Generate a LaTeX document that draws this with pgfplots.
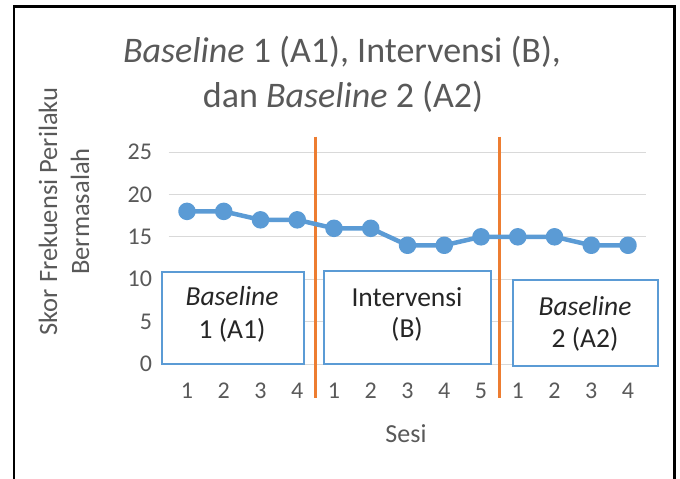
\documentclass[border=0pt]{standalone}
\usepackage{fontspec}
\setmainfont{Carlito}
\usepackage{pgfplots}
\pgfplotsset{compat=1.18}
\definecolor{txtgrey}{HTML}{595959}
\definecolor{blueline}{HTML}{5B9BD5}
\definecolor{orangeline}{HTML}{ED7D31}
\definecolor{gridgrey}{HTML}{D9D9D9}
\newcommand\fs[2]{\fontsize{#1}{#2}\selectfont}
\begin{document}
\begin{tikzpicture}
\useasboundingbox (0pt,0pt) rectangle (680pt,-479pt);
% frame
\draw[black, line width=2.6pt] (14pt,-485pt) -- (14pt,-6.7pt) -- (674.7pt,-6.7pt) -- (674.7pt,-485pt);
\begin{axis}[
 at={(168.6pt,-364pt)}, anchor=south west,
 scale only axis, width=477.8pt, height=212pt,
 xmin=-0.5, xmax=12.5, ymin=0, ymax=25,
 axis line style={draw=none}, major tick length=0pt,
 xtick={0,...,12}, xticklabels={1,2,3,4,1,2,3,4,5,1,2,3,4},
 ytick={0,5,...,25},
 ymajorgrids, grid style={gridgrey, line width=1pt},
 tick label style={font=\fs{24}{28}, text=txtgrey},
 /pgf/number format/assume math mode=true,
 xticklabel style={yshift=-15.5pt},
 yticklabel style={xshift=-13pt},
 clip=false,
]
\addplot[orangeline, line width=3pt] coordinates {(3.5,26.8) (3.5,-4)};
\addplot[orangeline, line width=3pt] coordinates {(8.5,26.8) (8.5,-4)};
\addplot[blueline, line width=4.5pt, line join=round, mark=*, mark size=6.5pt,
  mark options={fill=blueline, draw=none}]
  coordinates {(0,18)(1,18)(2,17)(3,17)(4,16)(5,16)(6,14)(7,14)(8,15)(9,15)(10,15)(11,14)(12,14)};
\end{axis}
% phase boxes
\draw[blueline, line width=2pt, fill=white] (161.7pt,-272pt) rectangle (304pt,-364pt);
\draw[blueline, line width=2pt, fill=white] (323.5pt,-271pt) rectangle (491pt,-364pt);
\draw[blueline, line width=2pt, fill=white] (512.8pt,-280pt) rectangle (657.7pt,-366pt);
\begin{scope}[every node/.style={anchor=base, text=black!85, font=\fs{27.5}{32}, inner sep=0pt}]
\node at (232pt,-305.7pt) {\textit{Baseline}};
\node at (232pt,-338pt) {1 (A1)};
\node at (407pt,-306pt) {Intervensi};
\node at (407pt,-337pt) {(B)};
\node at (585pt,-315pt) {\textit{Baseline}};
\node at (585pt,-347pt) {2 (A2)};
\end{scope}
% titles and labels
\begin{scope}[every node/.style={anchor=base, text=txtgrey, inner sep=0pt}]
\node[font=\fs{36}{42}] at (342pt,-62pt) {\textit{Baseline} 1 (A1), Intervensi (B),};
\node[font=\fs{36}{42}] at (343pt,-107pt) {dan \textit{Baseline} 2 (A2)};
\node[font=\fs{26.5}{30}, rotate=90] at (57pt,-211.5pt) {Skor Frekuensi Perilaku};
\node[font=\fs{26.5}{30}, rotate=90] at (89pt,-211.5pt) {Bermasalah};
\node[font=\fs{26}{30}] at (406pt,-442pt) {Sesi};
\end{scope}
\end{tikzpicture}
\end{document}
